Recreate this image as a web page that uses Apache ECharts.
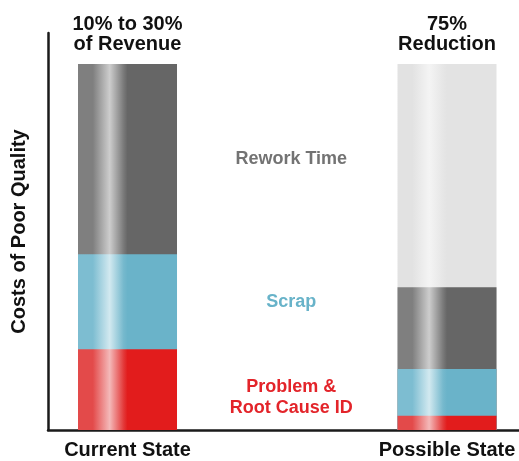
<!DOCTYPE html>
<html>
<head>
<meta charset="utf-8">
<script src="https://cdn.jsdelivr.net/npm/echarts@6/dist/echarts.min.js"></script>
<style>
html,body{margin:0;padding:0;background:#fff;}
#chart{width:519px;height:461px;}
</style>
</head>
<body>
<div id="chart"></div>
<script>
// categories (middle slot holds the segment names)
const categories = ['Current State', '', 'Possible State'];
// stacked segment values (left bar total = 100)
const problemRootCause = [22.1, '-', 3.9];
const scrap            = [25.9, '-', 12.8];
const reworkTime       = [52.0, '-', 22.3];
const eliminated       = ['-', '-', 61.0];
// annotations
const topLabels = ['10% to 30%\nof Revenue', '', '75%\nReduction'];
const segmentNames = ['Rework Time', 'Scrap', 'Problem &\nRoot Cause ID'];
const yAxisTitle = 'Costs of Poor Quality';

const FONT = '"Liberation Sans", Arial, Helvetica, sans-serif';

function grad(edge, hi, mid, flat) {
  return new echarts.graphic.LinearGradient(0, 0, 1, 0, [
    {offset: 0, color: edge},
    {offset: 0.15, color: edge},
    {offset: 0.32, color: hi},
    {offset: 0.46, color: mid},
    {offset: 0.5, color: flat},
    {offset: 1, color: flat}
  ]);
}
const redFill   = grad('#e34a4a', '#f4b9b9', '#e33a3a', '#e21c1c');
const blueFill  = grad('#7dbdd1', '#d2e9f0', '#76b9cd', '#6ab3c9');
const greyFill  = grad('#7f7f7f', '#cdcdcd', '#7a7a7a', '#666666');
const lightFill = grad('#e2e2e2', '#f4f4f4', '#e6e6e6', '#e3e3e3');

// stack the segments (bottom → top), computing cumulative tops per category
const layers = [problemRootCause, scrap, reworkTime, eliminated];
const cumulative = [];
const running = categories.map(() => 0);
layers.forEach(arr => {
  cumulative.push(arr.map((v, i) => {
    if (v === '-') return '-';
    running[i] += v;
    return running[i];
  }));
});
// which layer is the top of each category
const topLayer = categories.map((c, i) => {
  let t = -1;
  layers.forEach((arr, k) => { if (arr[i] !== '-') t = k; });
  return t;
});
function layerData(k) {
  const out = [];
  cumulative[k].forEach((v, i) => {
    if (v === '-') return;
    if (topLayer[i] === k && topLabels[i]) {
      out.push({
        value: [i, v],
        label: {
          show: true, position: 'top', distance: 10,
          formatter: topLabels[i],
          fontFamily: FONT, fontWeight: 'bold', fontSize: 20, lineHeight: 20,
          color: '#111'
        }
      });
    } else {
      out.push([i, v]);
    }
  });
  return out;
}

// segment name positions: midpoints of the current-state segments
const l0 = problemRootCause[0], l1 = scrap[0], l2 = reworkTime[0];
const nameYs = [l0 + l1 + l2 / 2, l0 + l1 / 2, l0 / 2];
const nameColors = ['#737373', '#68b3c9', '#e3242a'];
const nameOffsets = [[4, 0], [4, 0], [4, 8]];

const fills = [redFill, blueFill, greyFill, lightFill];
const names = ['Problem & Root Cause ID', 'Scrap', 'Rework Time', 'Eliminated'];
// draw tallest cumulative first so lower segments overlay it
const barSeries = [3, 2, 1, 0].map(k => ({
  type: 'bar', name: names[k], barWidth: 99, barGap: '-100%', silent: true,
  z: 2 + (3 - k) * 0.01,
  data: layerData(k),
  itemStyle: {color: fills[k]}
}));

const chart = echarts.init(document.getElementById('chart'), null, {renderer: 'canvas'});
chart.setOption({
  animation: false,
  grid: {left: 48, right: 0, top: 33, bottom: 31},
  xAxis: {
    type: 'value',
    min: -0.4977, max: 2.4507,
    axisLine: {show: true, onZero: false, lineStyle: {color: '#1a1a1a', width: 2.5}},
    axisTick: {show: false},
    splitLine: {show: false},
    axisLabel: {
      customValues: [0, 2],
      formatter: v => categories[Math.round(v)] || '',
      margin: 10, fontFamily: FONT, fontWeight: 'bold', fontSize: 20,
      lineHeight: 20, color: '#111', showMinLabel: true, showMaxLabel: true
    }
  },
  yAxis: {
    type: 'value', min: 0, max: 108.5,
    name: yAxisTitle, nameLocation: 'middle', nameRotate: 90, nameGap: 19,
    nameTextStyle: {fontFamily: FONT, fontWeight: 'bold', fontSize: 20, color: '#111'},
    axisLine: {show: true, onZero: false, lineStyle: {color: '#1a1a1a', width: 2.5}},
    axisTick: {show: false},
    axisLabel: {show: false},
    splitLine: {show: false}
  },
  series: barSeries.concat([
    {
      type: 'scatter', symbolSize: 0, silent: true, z: 5,
      itemStyle: {color: 'transparent', opacity: 1},
      data: segmentNames.map((n, i) => ({
        value: [1, nameYs[i]],
        label: {
          show: true, position: 'inside', formatter: n, offset: nameOffsets[i],
          fontFamily: FONT, fontWeight: 'bold', fontSize: 18, lineHeight: 21,
          color: nameColors[i], align: 'center', opacity: 1,
          textBorderWidth: 0, textBorderColor: 'transparent',
          textShadowBlur: 0
        }
      }))
    }
  ])
});
</script>
</body>
</html>
